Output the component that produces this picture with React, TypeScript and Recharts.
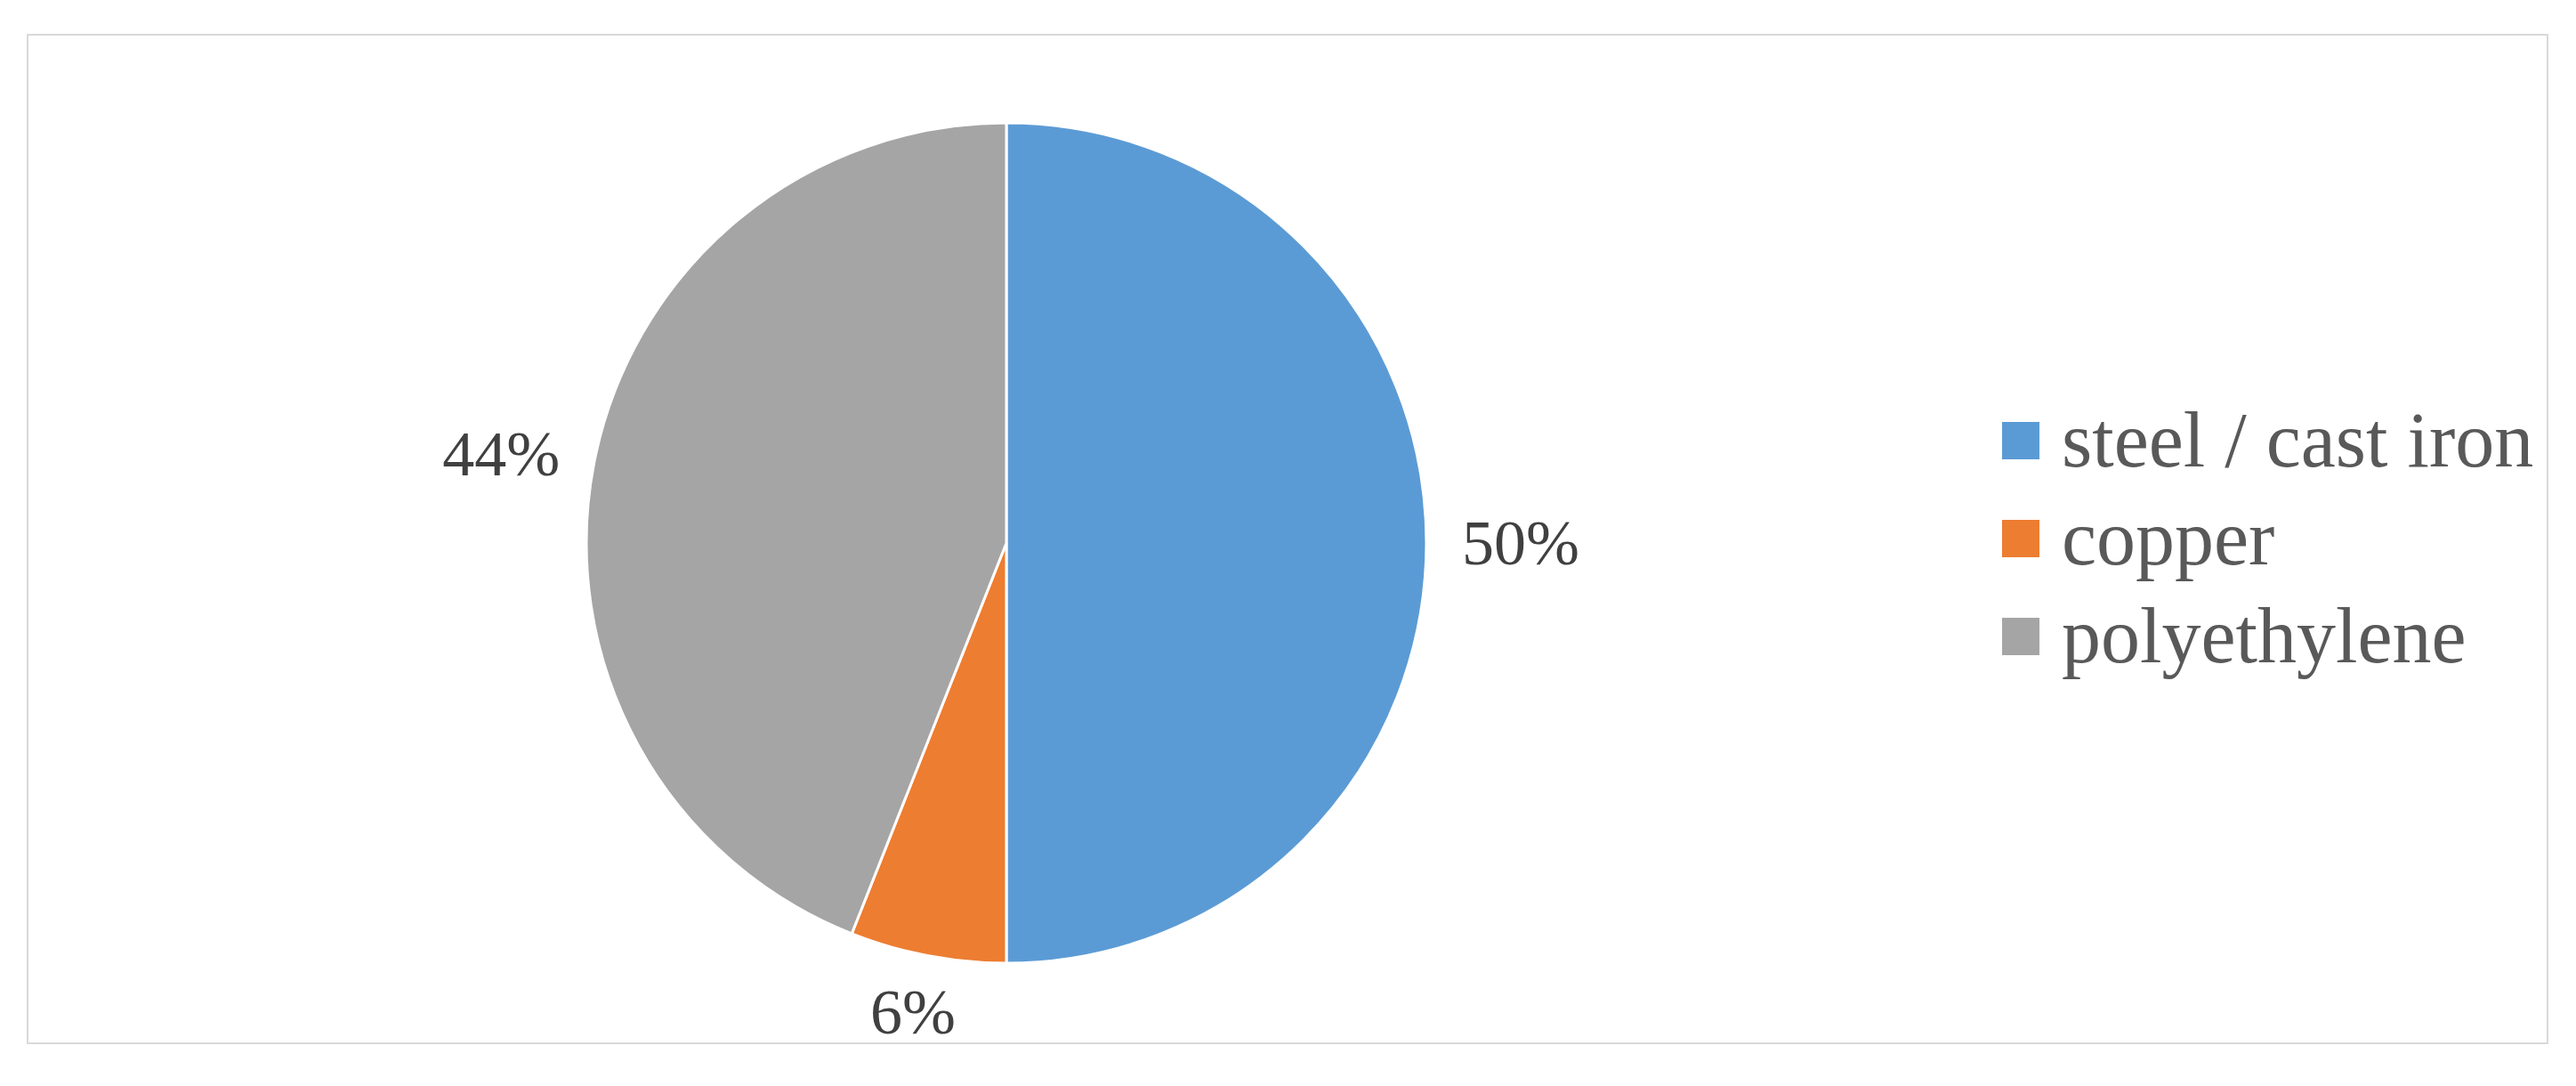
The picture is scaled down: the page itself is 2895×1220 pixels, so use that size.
import { PieChart, Pie, Cell, Legend } from 'recharts';

// Pipe material shares (percent)
const materials = ['steel / cast iron', 'copper', 'polyethylene'];
const shares = [50, 6, 44];
const colors = ['#5b9bd5', '#ed7d31', '#a5a5a5'];

const data = materials.map((name, i) => ({ name, value: shares[i] }));

const RADIAN = Math.PI / 180;
const LABEL_FONT = 72;
const LABEL_GAP = 40;

// outside-end label: the label box edge sits a fixed gap outside the arc
const renderLabel = (props: any) => {
  const { cx, cy, outerRadius, midAngle, value } = props;
  const text = `${value}%`;
  const w = (String(value).length * 0.5 + 0.833) * LABEL_FONT;
  const h = LABEL_FONT * 0.68;
  const cos = Math.cos(-midAngle * RADIAN);
  const sin = Math.sin(-midAngle * RADIAN);
  const r = outerRadius + LABEL_GAP;
  const x = cx + r * cos + (cos * w) / 2;
  const y = cy + r * sin + (sin * h) / 2;
  return (
    <text
      x={x}
      y={y + h / 2}
      textAnchor="middle"
      fill="#404040"
      fontSize={LABEL_FONT}
      fontFamily="'Liberation Serif', 'Times New Roman', serif"
    >
      {text}
    </text>
  );
};

const renderLegend = () => (
  <div style={{ fontFamily: "'Liberation Serif', 'Times New Roman', serif" }}>
    {data.map((d, i) => (
      <div
        key={d.name}
        style={{ display: 'flex', alignItems: 'center', height: 110 }}
      >
        <div style={{ width: 42, height: 42, background: colors[i], marginRight: 25 }} />
        <span style={{ fontSize: 88, color: '#595959', lineHeight: '110px', whiteSpace: 'nowrap' }}>
          {d.name}
        </span>
      </div>
    ))}
  </div>
);

export default function App() {
  return (
    <div style={{ position: 'absolute', left: 0, top: 0, width: 2895, height: 1220, background: '#fff' }}>
      <div
        style={{
          position: 'absolute',
          left: 30,
          top: 38,
          width: 2830,
          height: 1131,
          border: '2px solid #d9d9d9',
        }}
      />
      <div style={{ position: 'absolute', left: 0, top: 0 }}>
        <PieChart width={2895} height={1220}>
          <Pie
            data={data}
            dataKey="value"
            nameKey="name"
            cx={1126}
            cy={605}
            outerRadius={472}
            startAngle={90}
            endAngle={-270}
            stroke="#ffffff"
            strokeWidth={3}
            label={renderLabel}
            labelLine={false}
            isAnimationActive={false}
          >
            {data.map((d, i) => (
              <Cell key={d.name} fill={colors[i]} />
            ))}
          </Pie>
          <Legend
            content={renderLegend}
            wrapperStyle={{ position: 'absolute', left: 2250, top: 440, width: 620 }}
          />
        </PieChart>
      </div>
    </div>
  );
}
